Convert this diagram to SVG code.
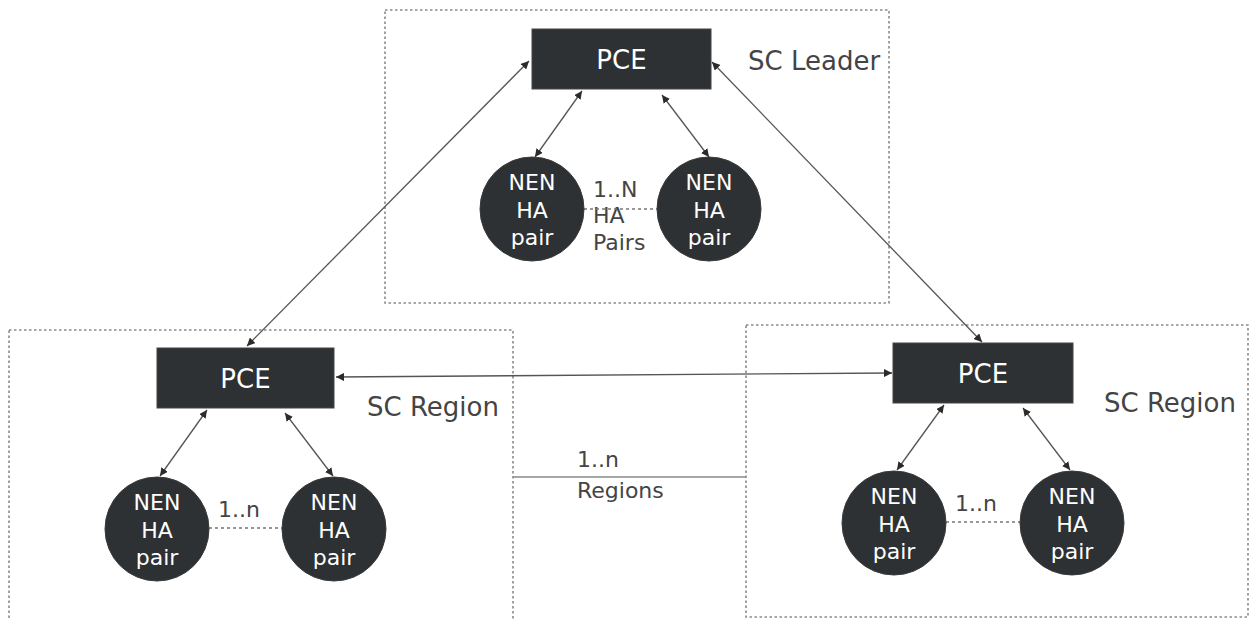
<svg xmlns="http://www.w3.org/2000/svg" width="1249" height="620" viewBox="0 0 1249 620">
<defs>
<marker id="ah" viewBox="0 0 10 10" refX="10" refY="5" markerWidth="8" markerHeight="8" markerUnits="userSpaceOnUse" orient="auto-start-reverse">
<path d="M0,0 L10,5 L0,10 z" fill="#2b2b2b"/>
</marker>
<style>
.frame{fill:none;stroke:#8a8a8a;stroke-width:1.6;stroke-dasharray:2.5 2.5}
.box{fill:#2d3133;stroke:#444;stroke-width:1}
.node{fill:#2d3133;stroke:#3a3a3a;stroke-width:1}
.wt{fill:#ffffff;font-family:"DejaVu Sans",Verdana,sans-serif;text-anchor:middle}
.pce{font-size:26px}
.nen{font-size:22px}
.lbl{fill:#444;font-family:"DejaVu Sans",Verdana,sans-serif}
.conn{stroke:#555;stroke-width:1.3;fill:none;marker-start:url(#ah);marker-end:url(#ah)}
.dot{stroke:#777;stroke-width:1.3;stroke-dasharray:3 3;fill:none}
.plain{stroke:#888;stroke-width:1.6;fill:none}
</style>
</defs>
<rect width="1249" height="620" fill="#ffffff"/>

<g id="frames">
<rect class="frame" x="385" y="10" width="504" height="293"/>
<rect class="frame" x="9" y="330" width="504" height="300"/>
<rect class="frame" x="746" y="325" width="502" height="292"/>
</g>

<g id="labels">
<text class="lbl" x="748" y="70" font-size="26">SC Leader</text>
<text class="lbl" x="367" y="416" font-size="26">SC Region</text>
<text class="lbl" x="1104" y="412" font-size="26">SC Region</text>
<text class="lbl" x="577" y="467" font-size="22">1..n</text>
<text class="lbl" x="577" y="498" font-size="22">Regions</text>
<text class="lbl" x="593" y="197" font-size="22">1..N</text>
<text class="lbl" x="593" y="223" font-size="22">HA</text>
<text class="lbl" x="593" y="250" font-size="22">Pairs</text>
<text class="lbl" x="218" y="517" font-size="22">1..n</text>
<text class="lbl" x="955" y="511" font-size="22">1..n</text>
</g>

<g id="connectors">
<line class="conn" x1="247" y1="346" x2="529" y2="61"/>
<line class="conn" x1="982" y1="342" x2="712" y2="62"/>
<line class="conn" x1="336" y1="377" x2="892" y2="373"/>
<line class="conn" x1="582" y1="91" x2="535" y2="157"/>
<line class="conn" x1="662" y1="95" x2="709" y2="157"/>
<line class="conn" x1="207" y1="410" x2="160" y2="476"/>
<line class="conn" x1="285" y1="413" x2="333" y2="476"/>
<line class="conn" x1="944" y1="405" x2="897" y2="470"/>
<line class="conn" x1="1023" y1="408" x2="1070" y2="470"/>
<line class="dot" x1="584" y1="209" x2="657" y2="209"/>
<line class="dot" x1="209" y1="528" x2="282" y2="528"/>
<line class="dot" x1="946" y1="522" x2="1020" y2="522"/>
<line class="plain" x1="513" y1="477" x2="746" y2="477"/>
</g>

<g id="pce-leader">
<rect class="box" x="532" y="29" width="179" height="60"/>
<text class="wt pce" x="621.5" y="69">PCE</text>
</g>
<g id="pce-left">
<rect class="box" x="157" y="348" width="177" height="60"/>
<text class="wt pce" x="245.5" y="388">PCE</text>
</g>
<g id="pce-right">
<rect class="box" x="893" y="343" width="180" height="60"/>
<text class="wt pce" x="983" y="383">PCE</text>
</g>

<g id="nen-leader-1">
<circle class="node" cx="532" cy="209" r="52"/>
<text class="wt nen" x="532" y="190">NEN</text>
<text class="wt nen" x="532" y="218">HA</text>
<text class="wt nen" x="532" y="245">pair</text>
</g>
<g id="nen-leader-2">
<circle class="node" cx="709" cy="209" r="52"/>
<text class="wt nen" x="709" y="190">NEN</text>
<text class="wt nen" x="709" y="218">HA</text>
<text class="wt nen" x="709" y="245">pair</text>
</g>
<g id="nen-left-1">
<circle class="node" cx="157" cy="529" r="52"/>
<text class="wt nen" x="157" y="510">NEN</text>
<text class="wt nen" x="157" y="538">HA</text>
<text class="wt nen" x="157" y="565">pair</text>
</g>
<g id="nen-left-2">
<circle class="node" cx="334" cy="529" r="52"/>
<text class="wt nen" x="334" y="510">NEN</text>
<text class="wt nen" x="334" y="538">HA</text>
<text class="wt nen" x="334" y="565">pair</text>
</g>
<g id="nen-right-1">
<circle class="node" cx="894" cy="523" r="52"/>
<text class="wt nen" x="894" y="504">NEN</text>
<text class="wt nen" x="894" y="532">HA</text>
<text class="wt nen" x="894" y="559">pair</text>
</g>
<g id="nen-right-2">
<circle class="node" cx="1072" cy="523" r="52"/>
<text class="wt nen" x="1072" y="504">NEN</text>
<text class="wt nen" x="1072" y="532">HA</text>
<text class="wt nen" x="1072" y="559">pair</text>
</g>
</svg>
